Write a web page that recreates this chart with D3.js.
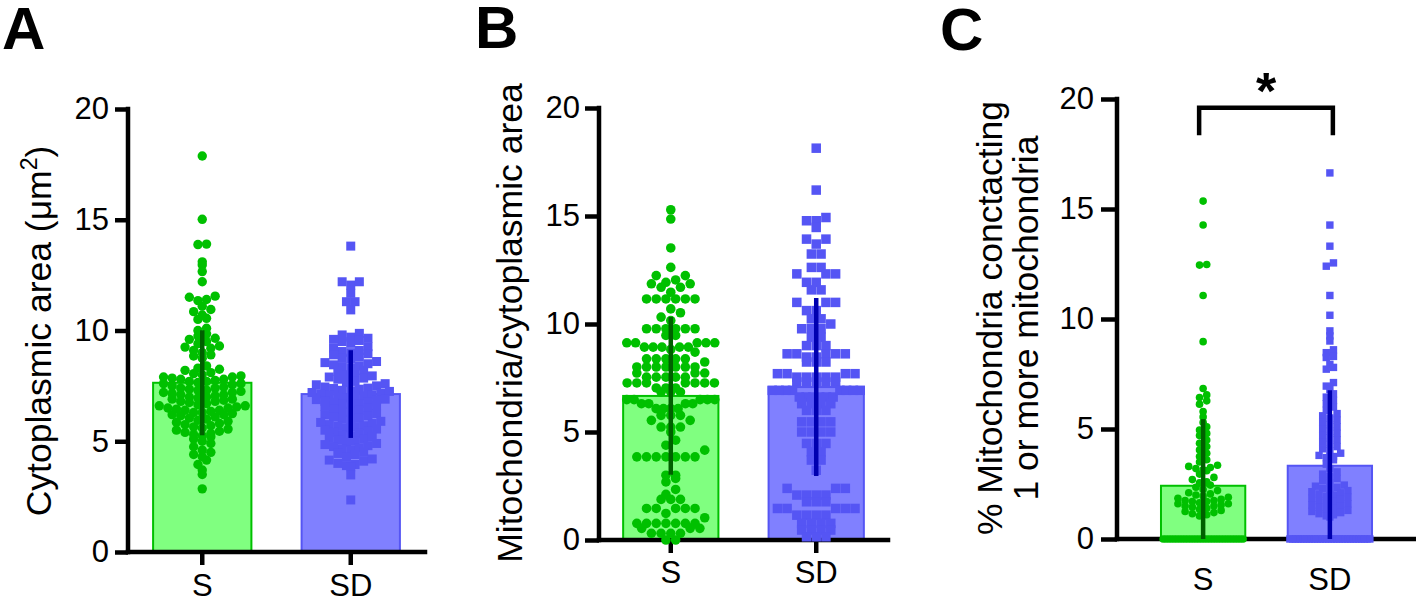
<!DOCTYPE html>
<html><head><meta charset="utf-8">
<script src="https://cdn.jsdelivr.net/npm/d3@7"></script>
<style>
body{margin:0;background:#fff}
svg{display:block}
text{font-family:"Liberation Sans",Arial,Helvetica,sans-serif}
</style>
</head><body>
<svg id="chart" width="1416" height="601"></svg>
<script>
// ---------------- data ----------------
const groups = ["S", "SD"];
const yTicks = [0, 5, 10, 15, 20];
const panelLetters = ["A", "B", "C"];

const meanA = [7.64, 7.13];
const sdA = [2.37, 1.98];
const meanB = [6.67, 7.08];
const sdB = [3.65, 4.12];
const meanC = [2.42, 3.33];
const sdC = [3.03, 3.43];

const ptsA_S = [17.88, 15.02, 13.9, 13.88, 13.1, 12.96, 12.66, 12.2,
  11.55, 11.5, 11.4, 11.35, 11.1, 10.95, 10.85, 10.7, 10.55, 10.5,
  10.1, 10.0, 9.85, 9.75, 9.65, 9.6, 9.5, 9.4, 9.3, 9.25, 9.2, 9.1, 9.0, 8.9, 8.85, 8.75,
  8.4, 8.3, 8.25, 8.2, 8.1, 8.05, 8.0, 7.95, 7.9, 7.9, 7.85, 7.8, 7.8, 7.75, 7.7, 7.7, 7.65, 7.6, 7.6, 7.55,
  7.5, 7.45, 7.4, 7.4, 7.35, 7.3, 7.3, 7.25, 7.2, 7.2, 7.15, 7.1, 7.1, 7.05, 7.0, 7.0, 6.95, 6.9, 6.9, 6.85, 6.8,
  6.8, 6.75, 6.7, 6.65, 6.6, 6.6, 6.55, 6.5, 6.5, 6.45, 6.4, 6.4, 6.35, 6.3, 6.3, 6.25, 6.2, 6.2, 6.15, 6.1, 6.05, 6.0,
  5.95, 5.9, 5.85, 5.8, 5.75, 5.7, 5.65, 5.6, 5.55, 5.5, 5.45, 5.4, 5.35, 5.3, 5.25, 5.2, 5.1, 5.0,
  4.9, 4.75, 4.6, 4.5, 4.4, 4.3, 4.15, 3.95, 3.7, 3.5, 2.85];

const ptsA_SD = [13.81, 12.2, 12.2, 12.05, 11.68, 11.3, 11.3, 10.93,
  9.87, 9.8, 9.7, 9.65, 9.6, 9.55, 9.5, 9.42,
  9.27, 9.2, 9.1, 9.05, 9.0, 8.95, 8.9, 8.8, 8.75, 8.7, 8.6, 8.55, 8.5, 8.45, 8.4,
  8.37, 8.3, 8.2, 8.15, 8.1, 8.0, 7.95, 7.9, 7.85, 7.8, 7.7, 7.65, 7.6, 7.55, 7.5,
  7.45, 7.4, 7.38, 7.35, 7.3, 7.28, 7.25, 7.2, 7.18, 7.15, 7.1, 7.08, 7.05, 7.0, 6.98, 6.95, 6.9, 6.88, 6.85, 6.8, 6.78, 6.75, 6.7, 6.68, 6.65, 6.6, 6.58,
  6.5, 6.45, 6.4, 6.35, 6.3, 6.25, 6.2, 6.15, 6.1, 6.05, 6.0, 5.95, 5.9, 5.85, 5.8, 5.75, 5.7, 5.68, 5.66, 5.6, 5.55,
  5.5, 5.45, 5.4, 5.35, 5.3, 5.25, 5.2, 5.15, 5.1, 5.05, 5.0, 4.95, 4.9, 4.85, 4.8, 4.76, 4.7, 4.65, 4.6, 4.5,
  4.45, 4.4, 4.3, 4.2, 4.15, 4.1, 4.0, 3.95, 3.9, 3.85, 3.48, 2.35];

const ptsB_S = [15.29, 14.86, 13.52, 12.62, 12.24, 12.24, 12.04, 11.93, 11.86, 11.86, 11.70, 11.70, 11.47,
  11.16, 11.16, 11.16, 11.16, 11.16, 11.16, 10.70, 10.52, 10.32, 10.16,
  9.78, 9.78, 9.78, 9.78, 9.78, 9.78, 9.47, 9.47, 9.13, 9.13, 9.13, 9.13, 9.13,
  8.93, 8.93, 8.93, 8.93, 8.93, 8.82, 8.70, 8.39, 8.39, 8.39, 8.39, 8.39, 8.24,
  8.01, 8.01, 8.01, 8.01, 8.01, 8.01, 8.01, 7.73, 7.73, 7.73, 7.54, 7.54, 7.54, 7.54, 7.54,
  7.27, 7.27, 7.27, 7.27, 7.27, 7.27, 7.27, 7.04, 7.04, 7.04, 6.85, 6.85, 6.85,
  6.50, 6.50, 6.50, 6.50, 6.50, 6.31, 6.31, 6.31, 6.31, 6.08, 6.08, 6.08, 6.08,
  5.77, 5.77, 5.77, 5.54, 5.54, 5.23, 5.23, 5.23, 5.00, 4.62, 4.39, 4.16,
  3.85, 3.85, 3.85, 3.85, 3.85, 3.85, 3.85, 3.00, 3.00, 2.85, 2.69, 2.34, 2.11,
  1.88, 1.88, 1.88, 1.46, 1.46, 1.46, 1.46, 1.46, 1.23, 1.03,
  0.77, 0.77, 0.77, 0.77, 0.77, 0.77, 0.77, 0.54, 0.54, 0.54, 0.31, 0.31, 0.31, 0.31, 0.0, 0.0];

const ptsB_SD = [18.14, 16.20, 14.93, 14.78, 14.78, 14.47, 13.93, 13.93, 13.70, 13.24, 13.24,
  12.62, 12.62, 12.32, 12.32, 12.32, 11.93, 11.93, 11.58, 11.58,
  11.0, 11.0, 11.0, 10.62, 10.62, 10.24, 10.24, 10.0,
  9.78, 9.78, 9.78, 9.39, 9.39, 9.0, 9.0, 9.0, 8.62, 8.62, 8.62, 8.62, 8.62, 8.47, 8.47,
  8.24, 8.24, 8.24, 7.70, 7.70, 7.70, 7.70, 7.54, 7.54, 7.54, 7.54, 7.54, 7.31, 7.31, 7.31, 7.31, 7.31,
  6.93, 6.93, 6.93, 6.93, 6.93, 6.93, 6.93, 6.93, 6.62, 6.62, 6.62, 6.62, 6.62, 6.62,
  6.31, 6.31, 6.31, 6.31, 6.0, 6.0, 6.0, 5.47, 5.47, 5.47, 5.47, 5.0, 5.0, 5.0, 5.0,
  4.47, 4.47, 4.47, 4.08, 4.08, 3.70, 3.70, 3.23,
  2.39, 2.39, 2.39, 2.08, 2.08, 2.08, 2.08, 1.77, 1.77, 1.77, 1.46, 1.46, 1.46, 1.46, 1.46,
  1.15, 1.15, 1.15, 1.15, 0.77, 0.77, 0.77, 0.77, 0.46, 0.46, 0.46, 0.46, 0.15, 0.15, 0.15];

const ptsC_S = [15.36, 14.27, 12.48, 12.45, 11.07, 8.97, 6.84, 6.55, 6.43, 6.28, 6.13, 5.79, 5.55,
  5.3, 5.1, 4.95, 4.8, 4.7, 4.5, 4.35, 4.2, 4.05, 3.9, 3.75, 3.6, 3.5, 3.35, 3.3, 3.25, 3.2, 3.15, 3.1,
  2.95, 2.8, 2.7, 2.6, 2.55, 2.45, 2.35, 2.25, 2.2, 2.1, 2.05, 2.0, 1.95, 1.9, 1.85, 1.8, 1.75, 1.75,
  1.7, 1.7, 1.65, 1.6, 1.6, 1.55, 1.5, 1.5, 1.45, 1.4, 1.35, 1.3, 1.25, 1.2, 1.15, 1.1, 1.05,
  0, 0, 0, 0, 0, 0, 0, 0, 0, 0, 0, 0, 0, 0, 0, 0, 0, 0, 0, 0, 0, 0, 0, 0, 0, 0, 0, 0, 0, 0];

const ptsC_SD = [16.64, 14.27, 13.31, 12.55, 12.4, 11.07, 10.17, 9.46, 9.23, 9.0, 8.6, 8.47, 8.3, 8.25,
  7.94, 7.8, 7.72, 7.11, 6.95, 6.8, 6.6, 6.45, 6.3, 6.15, 6.0, 5.85, 5.7, 5.6, 5.5, 5.4, 5.3, 5.2,
  5.1, 5.0, 4.9, 4.8, 4.7, 4.6, 4.5, 4.4, 4.3, 4.2, 4.1, 4.0, 3.9, 3.8, 3.75, 3.7, 3.6,
  3.4, 3.2, 3.05, 2.95, 2.85, 2.75, 2.65, 2.55, 2.45, 2.4, 2.35, 2.3, 2.25, 2.2, 2.15, 2.1, 2.05,
  2.0, 1.95, 1.9, 1.85, 1.8, 1.75, 1.7, 1.65, 1.6, 1.55, 1.5, 1.45, 1.4, 1.35, 1.3, 1.25, 1.2,
  1.15, 1.1, 1.05, 1.0,
  0, 0, 0, 0, 0, 0, 0, 0, 0, 0, 0, 0, 0, 0, 0, 0, 0, 0, 0, 0, 0, 0, 0, 0, 0, 0, 0, 0, 0, 0];

// ---------------- styling ----------------
const pointColor = ["#00c000", "#5555f4"];
const barFill = ["#80ff80", "#8080ff"];
const barStroke = ["#00c000", "#5555f4"];
const errColor = ["#006000", "#0000b0"];
const FONT = 31;
const TITLE_FONT = 35.5;
const LW = 4.5;

const svg = d3.select("#chart");

// row-binned swarm (points keep their true y; rows are spread horizontally)
function swarm(vals, y, cx, binH, spacing, maxHalf) {
  const pts = vals.map(v => ({ v, py: y(v) }));
  const bins = d3.group(pts, p => Math.round((y(0) - p.py) / binH));
  const out = [];
  for (const [, arr] of bins) {
    arr.sort((a, b) => a.v - b.v);
    const n = arr.length;
    const sp = n > 1 ? Math.min(spacing, 2 * maxHalf / (n - 1)) : 0;
    const offs = d3.range(n).map(j => (j - (n - 1) / 2) * sp);
    offs.sort((a, b) => Math.abs(a) - Math.abs(b) || a - b);
    arr.forEach((p, j) => out.push({ x: cx + offs[j], y: p.py }));
  }
  return out;
}

function panel(cfg) {
  const g = svg.append("g");
  const y = d3.scaleLinear().domain([0, 20]).range([cfg.y0, cfg.y20]);
  const x = d3.scaleBand().domain(groups).range([cfg.ax, cfg.xEnd])
    .paddingInner(cfg.pi).paddingOuter(cfg.po);
  const bw = x.bandwidth();

  groups.forEach((gn, i) => {
    g.append("rect")
      .attr("x", x(gn)).attr("width", bw)
      .attr("y", y(cfg.mean[i])).attr("height", y(0) - y(cfg.mean[i]))
      .attr("fill", barFill[i]).attr("stroke", barStroke[i]).attr("stroke-width", 2);
  });

  const ya = g.append("g").attr("transform", `translate(${cfg.ax},0)`)
    .call(d3.axisLeft(y).tickValues(yTicks).tickSize(cfg.tick).tickPadding(cfg.tpad).tickSizeOuter(0));
  ya.select(".domain").remove();
  ya.selectAll(".tick line").attr("stroke", "#000").attr("stroke-width", LW);
  ya.selectAll(".tick text").attr("font-size", FONT).attr("fill", "#000")
    .style("font-family", '"Liberation Sans",Arial,sans-serif');
  g.append("line").attr("x1", cfg.ax).attr("x2", cfg.ax).attr("y1", y(20)).attr("y2", y(0))
    .attr("stroke", "#000").attr("stroke-width", LW).attr("stroke-linecap", "square");

  const xa = g.append("g").attr("transform", `translate(0,${y(0)})`)
    .call(d3.axisBottom(x).tickSize(cfg.xtick).tickPadding(cfg.xpad).tickSizeOuter(0));
  xa.select(".domain").remove();
  xa.selectAll(".tick line").attr("stroke", "#000").attr("stroke-width", LW);
  xa.selectAll(".tick text").attr("font-size", FONT).attr("fill", "#000")
    .style("font-family", '"Liberation Sans",Arial,sans-serif');
  g.append("line").attr("x1", cfg.ax).attr("x2", cfg.xEnd).attr("y1", y(0)).attr("y2", y(0))
    .attr("stroke", "#000").attr("stroke-width", LW).attr("stroke-linecap", "square");

  groups.forEach((gn, i) => {
    const cx = x(gn) + bw / 2;
    const pos = swarm(cfg.pts[i], y, cx, cfg.binH, cfg.spacing, cfg.maxHalf);
    if (i === 0) {
      g.append("g").selectAll("circle").data(pos).join("circle")
        .attr("cx", p => p.x).attr("cy", p => p.y).attr("r", cfg.r)
        .attr("fill", pointColor[0]);
    } else {
      g.append("g").selectAll("rect").data(pos).join("rect")
        .attr("x", p => p.x - cfg.sq / 2).attr("y", p => p.y - cfg.sq / 2)
        .attr("width", cfg.sq).attr("height", cfg.sq)
        .attr("fill", pointColor[1]);
    }
  });

  groups.forEach((gn, i) => {
    const cx = x(gn) + bw / 2;
    g.append("line").attr("x1", cx).attr("x2", cx)
      .attr("y1", y(Math.max(0, cfg.mean[i] - cfg.sd[i])))
      .attr("y2", y(cfg.mean[i] + cfg.sd[i]))
      .attr("stroke", errColor[i]).attr("stroke-width", LW);
  });

  const t = g.append("text").attr("text-anchor", "middle").attr("font-size", TITLE_FONT)
    .attr("fill", "#000")
    .attr("transform", `translate(${cfg.titleX},${cfg.titleY}) rotate(-90)`);
  cfg.title(t);

  g.append("text").attr("x", cfg.lx).attr("y", cfg.ly).attr("font-size", 60)
    .attr("font-weight", "bold").attr("fill", "#000").text(cfg.letter);

  return { g, x, y };
}

panel({
  letter: panelLetters[0], lx: 2, ly: 49,
  ax: 128, xEnd: 425, y0: 552, y20: 109, pi: 0.338, po: 0.169,
  tick: 13, tpad: 6, xtick: 13, xpad: 9,
  mean: meanA, sd: sdA, pts: [ptsA_S, ptsA_SD],
  r: 4.7, sq: 9, binH: 7.5, spacing: 8.6, maxHalf: 45,
  titleX: 51, titleY: 331,
  title: t => {
    t.append("tspan").text("Cytoplasmic area (\u03bcm");
    t.append("tspan").attr("font-size", 23).attr("dy", -14).text("2");
    t.append("tspan").attr("dy", 14).text(")");
  }
});

panel({
  letter: panelLetters[1], lx: 475, ly: 48,
  ax: 599, xEnd: 888, y0: 540, y20: 108, pi: 0.345, po: 0.166,
  tick: 14, tpad: 5, xtick: 13, xpad: 8,
  mean: meanB, sd: sdB, pts: [ptsB_S, ptsB_SD],
  r: 4.8, sq: 9.5, binH: 9.7, spacing: 9.7, maxHalf: 44,
  titleX: 522, titleY: 323,
  title: t => t.text("Mitochondria/cytoplasmic area")
});

const pc = panel({
  letter: panelLetters[2], lx: 940, ly: 50,
  ax: 1117, xEnd: 1416, y0: 539, y20: 99, pi: 0.335, po: 0.347,
  tick: 16, tpad: 7, xtick: 0, xpad: 29,
  mean: meanC, sd: sdC, pts: [ptsC_S, ptsC_SD],
  r: 3.8, sq: 7.4, binH: 6.5, spacing: 7.2, maxHalf: 40,
  titleX: 1002, titleY: 318,
  title: t => {
    t.append("tspan").attr("x", 0).attr("y", 0).text("% Mitochondria conctacting");
    t.append("tspan").attr("x", 0).attr("y", 36).text("1 or more mitochondria");
  }
});

const bx1 = pc.x("S") + pc.x.bandwidth() / 2 - 4;
const bx2 = pc.x("SD") + pc.x.bandwidth() / 2 + 3;
const by = pc.y(19.6), byl = pc.y(18.35);
pc.g.append("path")
  .attr("d", `M${bx1},${byl}V${by}H${bx2}V${byl}`)
  .attr("fill", "none").attr("stroke", "#000").attr("stroke-width", LW);
pc.g.append("text").attr("x", (bx1 + bx2) / 2).attr("y", 109).attr("text-anchor", "middle")
  .attr("font-size", 52).attr("font-weight", "bold").attr("fill", "#000").text("*");
</script>
</body></html>
